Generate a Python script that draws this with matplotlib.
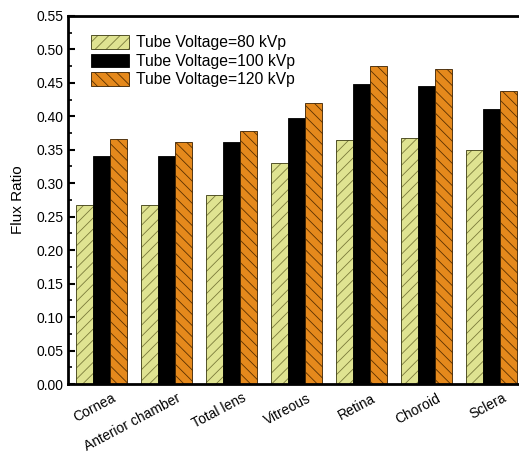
import matplotlib
matplotlib.use("Agg")
import matplotlib.pyplot as plt
import matplotlib.transforms as mtransforms
import numpy as np
from matplotlib.ticker import MultipleLocator

plt.rcParams["font.family"] = ["Liberation Sans", "DejaVu Sans"]
plt.rcParams["hatch.linewidth"] = 0.6

# ---------------------------------------------------------------------------
# Data
# ---------------------------------------------------------------------------
tissues = ["Cornea", "Anterior chamber", "Total lens", "Vitreous",
           "Retina", "Choroid", "Sclera"]
flux_80 = [0.268, 0.268, 0.282, 0.330, 0.365, 0.367, 0.350]
flux_100 = [0.340, 0.340, 0.362, 0.397, 0.448, 0.445, 0.411]
flux_120 = [0.366, 0.362, 0.378, 0.420, 0.475, 0.471, 0.437]
labels = ["Tube Voltage=80 kVp", "Tube Voltage=100 kVp", "Tube Voltage=120 kVp"]

# ---------------------------------------------------------------------------
# Figure
# ---------------------------------------------------------------------------
fig = plt.figure(figsize=(5.19, 4.65), dpi=100)
ax = fig.add_axes([0.131, 0.174, 0.869, 0.792])

x = np.arange(len(tissues))
w = 0.26

b1 = ax.bar(x - w, flux_80, w, color="#dfe391", edgecolor="#3a3a10",
            linewidth=0.6, hatch="///", label=labels[0])
b2 = ax.bar(x, flux_100, w, color="black", edgecolor="black",
            linewidth=0.6, label=labels[1])
b3 = ax.bar(x + w, flux_120, w, color="#e5891c", edgecolor="#3a2000",
            linewidth=0.6, hatch="\\\\\\", label=labels[2])
# darker hatch strokes than the bar edges
for b in b1:
    b._hatch_color = matplotlib.colors.to_rgba("#7a7a3a")
for b in b3:
    b._hatch_color = matplotlib.colors.to_rgba("#5a3000")

ax.set_xlim(-0.515, 6.42)
ax.set_ylim(0, 0.55)
ax.yaxis.set_major_locator(MultipleLocator(0.05))
ax.yaxis.set_minor_locator(MultipleLocator(0.025))
ax.set_yticklabels([f"{v:.2f}" for v in ax.get_yticks()])
ax.tick_params(axis="y", which="major", direction="in", length=5, width=1.5,
               labelsize=10)
ax.tick_params(axis="y", which="minor", direction="in", length=3, width=1.2)

ax.set_xticks(x)
ax.set_xticklabels(tissues, rotation=28, ha="right", fontsize=10,
                   rotation_mode="anchor")
ax.tick_params(axis="x", length=0, pad=5)
# nudge the rotated labels right so their ends sit past the group centre
shift = mtransforms.ScaledTranslation(0.10, 0, fig.dpi_scale_trans)
for lbl in ax.get_xticklabels():
    lbl.set_transform(lbl.get_transform() + shift)

for s in ["left", "bottom", "top"]:
    ax.spines[s].set_linewidth(2)
ax.spines["right"].set_visible(False)

ax.set_ylabel("Flux Ratio", fontsize=11, labelpad=8)

ax.legend(loc="upper left", bbox_to_anchor=(0.037, 0.965), frameon=False,
          fontsize=11.3, handlelength=2.45, handleheight=0.95,
          labelspacing=0.22, handletextpad=0.45, borderaxespad=0)

fig.savefig("out.png", dpi=100)
